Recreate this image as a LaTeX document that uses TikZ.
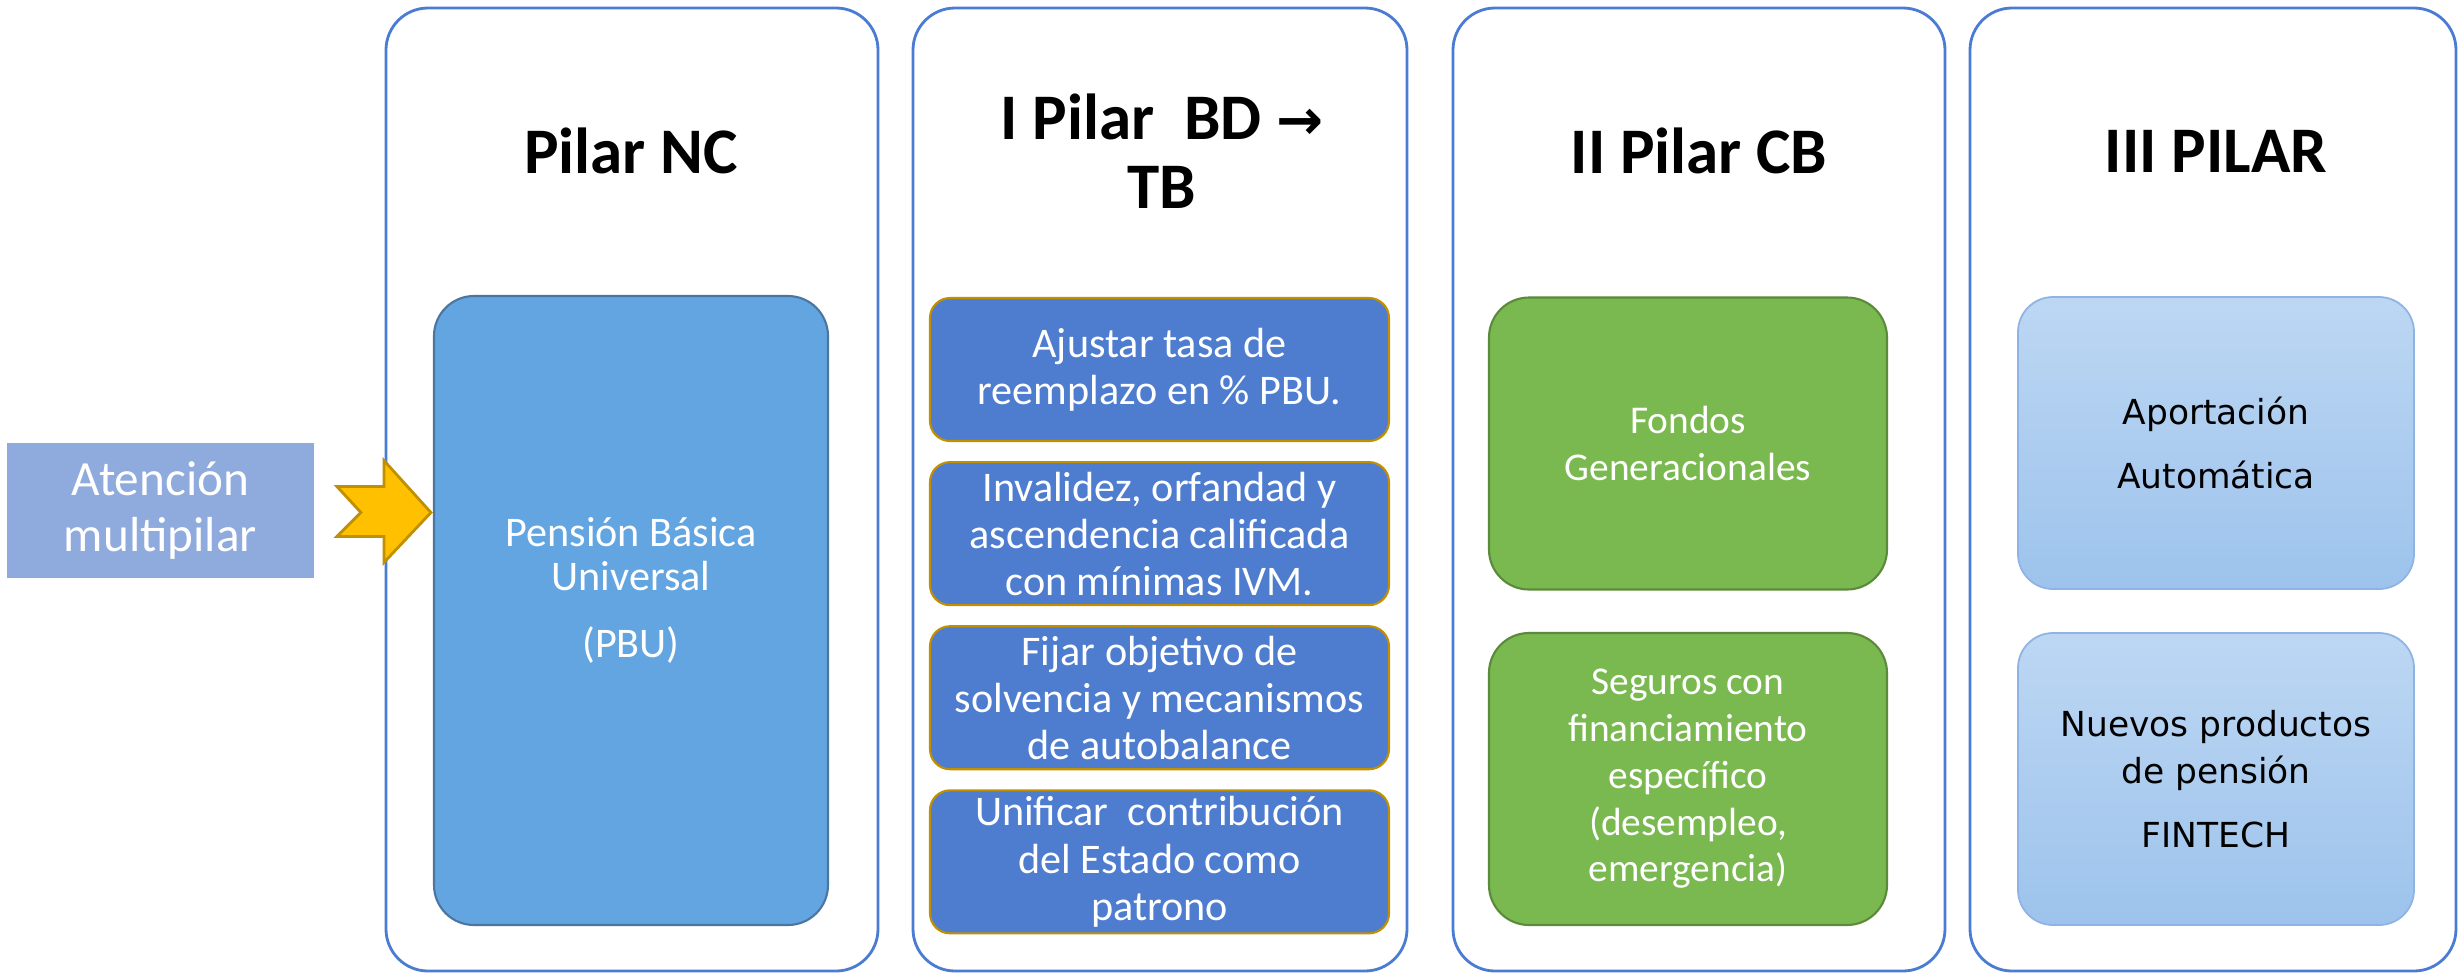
\documentclass[tikz,border=0pt]{standalone}
\usepackage{fontspec}
\setmainfont{Carlito}
\newfontfamily\dejavu{DejaVu Sans}
\usepackage{xcolor}
\usepackage{tikz}
\usetikzlibrary{positioning,calc}

\definecolor{marco}{HTML}{4A7CD4}
\definecolor{azulatn}{HTML}{8FAADC}
\definecolor{azulpbu}{HTML}{63A5E0}
\definecolor{bordepbu}{HTML}{4A76A0}
\definecolor{azulbd}{HTML}{4E7DD0}
\definecolor{oro}{HTML}{C09000}
\definecolor{verde}{HTML}{7AB850}
\definecolor{bordeverde}{HTML}{5B8A3A}
\definecolor{celeste}{HTML}{BDD7F3}
\definecolor{celesteb}{HTML}{9DC3EC}
\definecolor{bordeceleste}{HTML}{8FB4E3}
\definecolor{amarillo}{HTML}{FFC000}

\tikzset{
    pilar/.style={draw=marco, line width=0.8pt, fill=white, rounded corners=0.42cm},
    titulo/.style={font={\bfseries\fontsize{18.5}{19.6}\selectfont}, align=center},
    caja/.style={rectangle, align=center, text=white, inner sep=0pt},
    cajabd/.style={caja, fill=azulbd, draw=oro, line width=0.6pt, rounded corners=0.2cm,
        minimum width=4.59cm, minimum height=1.43cm, font={\fontsize{12}{13.4}\selectfont}},
    cajacb/.style={caja, fill=verde, draw=bordeverde, line width=0.6pt, rounded corners=0.4cm,
        minimum width=3.98cm, minimum height=2.92cm, font={\fontsize{11.2}{13.3}\selectfont}},
    cajatres/.style={caja, text=black, top color=celeste, bottom color=celesteb, draw=bordeceleste,
        line width=0.5pt, rounded corners=0.35cm, minimum width=3.96cm, minimum height=2.92cm,
        font={\dejavu\fontsize{9.8}{13.4}\selectfont}},
    flecha/.style={fill=amarillo, draw=oro, line width=0.8pt, line join=miter}
}

\begin{document}
\begin{tikzpicture}[x=1cm, y=-1cm]
    \useasboundingbox (0,0) rectangle (24.58,9.72);

    % Marcos de los pilares
    \draw[pilar] (3.86,0.08) rectangle (8.78,9.71);
    \draw[pilar] (9.13,0.08) rectangle (14.07,9.71);
    \draw[pilar] (14.53,0.08) rectangle (19.45,9.71);
    \draw[pilar] (19.70,0.08) rectangle (24.56,9.71);

    % Titulos
    \node[titulo] (tnc) at (6.31,1.51) {Pilar NC};
    \node[titulo] (tbd) at (11.62,1.51) {I Pilar~~BD {\dejavu\bfseries\fontsize{16}{19.6}\selectfont →}\\TB};
    \node[titulo] (tcb) at (16.99,1.51) {II Pilar CB};
    \node[titulo] (ttres) at (22.16,1.51) {III PILAR};

    % Entrada
    \node[caja, fill=azulatn, minimum width=3.07cm, minimum height=1.35cm,
        font={\fontsize{14}{16.2}\selectfont}] (atencion) at (1.605,5.105) {Atención\\multipilar};

    % Pilar NC
    \node[caja, fill=azulpbu, draw=bordepbu, line width=0.6pt, rounded corners=0.4cm,
        minimum width=3.94cm, minimum height=6.29cm] (pbu) at (6.31,6.105) {};
    \node[caja, font={\fontsize{12}{12.5}\selectfont}] (pbutexto) at ($(pbu.center)+(0,-0.2)$)
        {Pensión Básica\\Universal\\[6.8pt](PBU)};

    % I Pilar
    \node[cajabd] (tasa) at (11.595,3.695) {Ajustar tasa de\\reemplazo en \% PBU.};
    \node[cajabd, below=0.19cm of tasa] (invalidez) {Invalidez, orfandad y\\ascendencia calificada\\con mínimas IVM.};
    \node[cajabd, below=0.19cm of invalidez] (solvencia) {Fijar objetivo de\\solvencia y mecanismos\\de autobalance};
    \node[cajabd, below=0.19cm of solvencia] (estado) {Unificar~~contribución\\del Estado como\\patrono};

    % II Pilar
    \node[cajacb] (fondos) at (16.88,4.435) {Fondos\\Generacionales};
    \node[cajacb] (seguros) at (16.88,7.79) {Seguros con\\financiamiento\\específico\\(desempleo,\\emergencia)};

    % III Pilar
    \node[cajatres] (aporte) at (22.16,4.43) {Aportación\\[4.8pt]Automática};
    \node[cajatres] (fintech) at (22.16,7.79) {Nuevos productos\\de pensión\\[4.8pt]FINTECH};

    % Flecha de entrada
    \coordinate (punta) at ($(atencion.east -| pbu.west)+(-0.02,0.02)$);
    \draw[flecha] (punta) -- ++(-0.47,-0.52) -- ++(0,0.26) -- ++(-0.47,0) -- ++(0.24,0.26)
        -- ++(-0.24,0.24) -- ++(0.47,0) -- ++(0,0.26) -- cycle;
\end{tikzpicture}
\end{document}
